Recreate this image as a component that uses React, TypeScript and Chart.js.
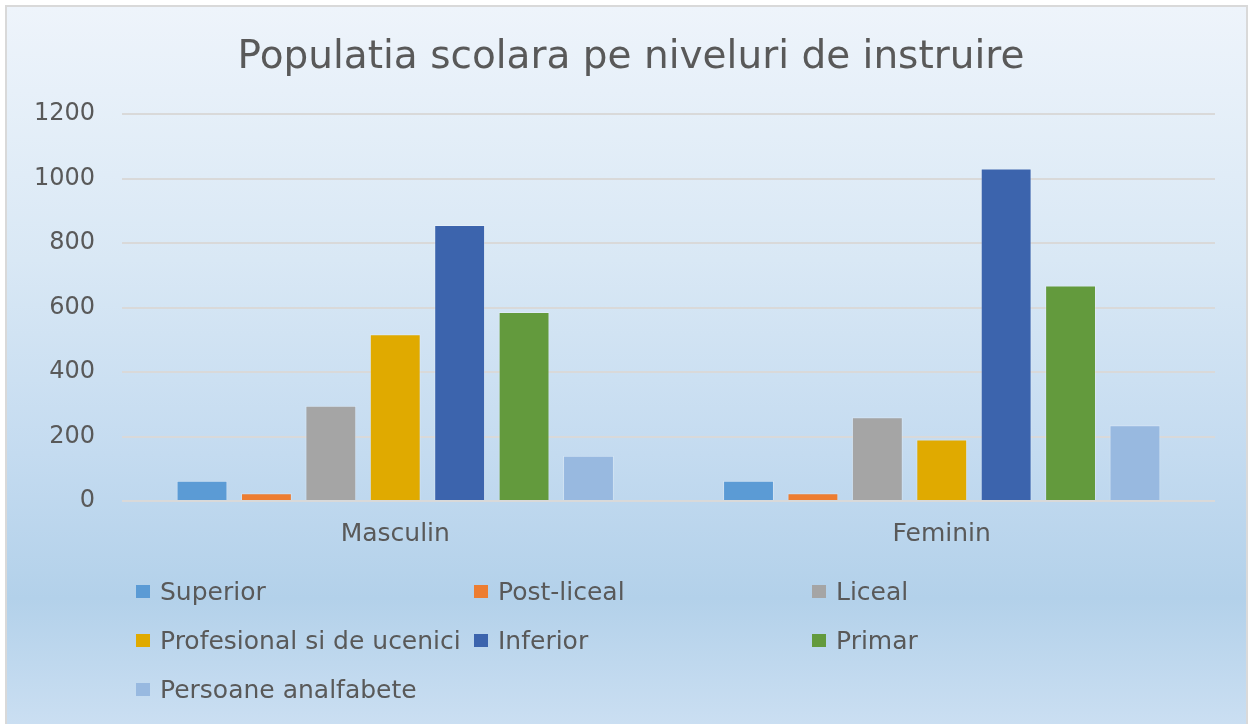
import React, { useEffect, useRef } from "react";
import { Chart, registerables } from "chart.js";

Chart.register(...registerables);

const categories = ["Masculin", "Feminin"];
const seriesNames = [
  "Superior",
  "Post-liceal",
  "Liceal",
  "Profesional si de ucenici",
  "Inferior",
  "Primar",
  "Persoane analfabete",
];
const superior = [63, 63];
const postLiceal = [24, 24];
const liceal = [295, 260];
const profesional = [517, 191];
const inferior = [856, 1031];
const primar = [586, 668];
const analfabete = [140, 235];
const seriesColors = ["#5b9bd5", "#ed7d31", "#a5a5a5", "#e0aa00", "#3c64ad", "#639a3d", "#98b9e0"];
const seriesValues = [superior, postLiceal, liceal, profesional, inferior, primar, analfabete];
const yTicks = [0, 200, 400, 600, 800, 1000, 1200];

const FONT = "'DejaVu Sans', sans-serif";
const TEXT = "#595959";

const legendCols = [136, 474, 812];
const legendRows = [591, 640, 689];

export default function App() {
  const ref = useRef<HTMLCanvasElement | null>(null);

  useEffect(() => {
    if (!ref.current) return;
    const chart = new Chart(ref.current, {
      type: "bar",
      data: {
        labels: categories,
        datasets: seriesNames.map((name, i) => ({
          label: name,
          data: seriesValues[i],
          backgroundColor: seriesColors[i],
          borderColor: "rgba(255,255,255,0.25)",
          borderWidth: 1,
          categoryPercentage: 0.825,
          barPercentage: 0.79,
        })),
      },
      options: {
        animation: false,
        responsive: false,
        maintainAspectRatio: false,
        layout: { padding: { left: 0, right: 0, top: 0, bottom: 0 } },
        plugins: {
          legend: { display: false },
          tooltip: { enabled: false },
          title: {
            display: true,
            text: "Populatia scolara pe niveluri de instruire",
            color: TEXT,
            font: { family: FONT, size: 39, weight: "normal", lineHeight: 1.2 },
            padding: { top: 34.6, bottom: 32.6 },
          },
        },
        scales: {
          x: {
            grid: { display: false, drawTicks: false },
            border: { display: false },
            ticks: {
              color: TEXT,
              font: { family: FONT, size: 25, lineHeight: 1.2 },
              padding: 18,
            },
            afterFit: (s: any) => {
              s.height = 223;
            },
          },
          y: {
            min: 0,
            max: 1200,
            afterBuildTicks: (s: any) => {
              s.ticks = yTicks.map((v) => ({ value: v }));
            },
            grid: { color: "#d9d9d9", lineWidth: 2, drawTicks: false },
            border: { display: false },
            ticks: {
              color: TEXT,
              font: { family: FONT, size: 24 },
              padding: 27,
              callback: (v: any) => String(v),
            },
            afterFit: (s: any) => {
              s.width = 122;
            },
          },
          spacer: {
            type: "linear",
            position: "right",
            display: true,
            grid: { display: false, drawTicks: false },
            border: { display: false },
            ticks: { display: false },
            afterFit: (s: any) => {
              s.width = 47;
            },
          },
        },
      },
    });
    return () => chart.destroy();
  }, []);

  return (
    <div
      style={{
        position: "absolute",
        left: 0,
        top: 0,
        width: 1251,
        height: 724,
        background: "#ffffff",
        overflow: "hidden",
      }}
    >
      <div
        style={{
          position: "absolute",
          left: 5,
          top: 5,
          width: 1243,
          height: 725,
          boxSizing: "border-box",
          border: "2px solid #d9d9d9",
          background:
            "linear-gradient(to bottom, #eef4fb 0%, #d9e8f5 35%, #c4dbf0 62%, #b3d1ea 82%, #cbdff2 100%)",
        }}
      />
      <canvas
        ref={ref}
        width={1262}
        height={724}
        style={{ position: "absolute", left: 0, top: 0, width: 1262, height: 724 }}
      />
      {seriesNames.map((name, i) => {
        const col = i % 3;
        const row = Math.floor(i / 3);
        return (
          <div
            key={name}
            style={{
              position: "absolute",
              left: legendCols[col],
              top: legendRows[row] - 16,
              height: 32,
              display: "flex",
              alignItems: "center",
              fontFamily: FONT,
              fontSize: 25,
              color: TEXT,
              whiteSpace: "nowrap",
            }}
          >
            <span
              style={{
                display: "inline-block",
                width: 14,
                height: 13,
                background: seriesColors[i],
                marginRight: 10,
              }}
            />
            {name}
          </div>
        );
      })}
    </div>
  );
}
